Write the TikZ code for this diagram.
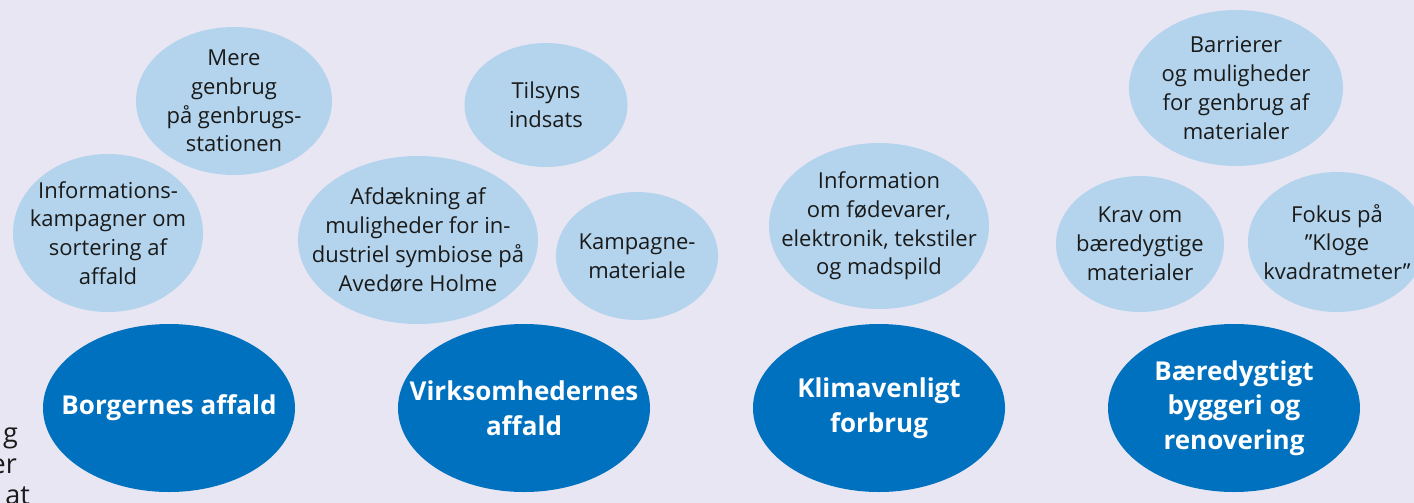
\documentclass[tikz,border=0pt]{standalone}
\usepackage{fontspec}
\setmainfont{Open Sans}
\usetikzlibrary{shapes.geometric,backgrounds}
\definecolor{bgc}{HTML}{E8E6F3}
\definecolor{dark}{HTML}{0071BF}
\definecolor{light}{HTML}{B3D4EC}
\definecolor{txt}{HTML}{1A1A1A}
\tikzset{
  sub/.style={ellipse, fill=light, inner sep=-60pt, align=center, text=txt,
    font=\fontsize{22}{28.8}\selectfont},
  main/.style={ellipse, fill=dark, inner sep=-60pt, align=center, text=white,
    minimum width=252pt, minimum height=168pt,
    font=\bfseries\fontsize{26}{34.5}\selectfont},
  link/.style={draw=dark, line width=5.5pt},
  edge/.style={text=txt, font=\fontsize{27}{31}\selectfont, anchor=base east, inner sep=0pt}
}
\begin{document}
\begin{tikzpicture}[x=1pt,y=-1pt]
\useasboundingbox (0,0) rectangle (1414,503);
\fill[bgc] (0,0) rectangle (1414,503);

% text cut off at the left edge
\node[edge] (t1) at (18,442) {g};
\node[edge] (t2) at (17,473) {er};
\node[edge] (t3) at (30,504) {at};

% main nodes
\node[main] (bor) at (169,408) {Borgernes affald};
\node[main] (vir) at (524,408) {Virksomhedernes\\affald};
\node[main] (kli) at (879,408) {Klimavenligt\\forbrug};
\node[main] (bae) at (1234,408) {Bæredygtigt\\byggeri og\\renovering};

% sub nodes
\node[sub, minimum width=190pt, minimum height=158pt] (inf) at (108,233) {Informations-\\kampagner om\\sortering af\\affald};
\node[sub, minimum width=196pt, minimum height=148pt] (mer) at (234,101) {Mere\\genbrug\\på genbrugs-\\stationen};
\node[sub, minimum width=240pt, minimum height=168pt] (afd) at (418,240) {Afdækning af\\muligheder for in-\\dustriel symbiose på\\Avedøre Holme};
\node[sub, minimum width=163pt, minimum height=124pt] (til) at (546,105) {Tilsyns\\indsats};
\node[sub, minimum width=162pt, minimum height=128pt] (kam) at (637,256) {Kampagne-\\materiale};
\node[sub, minimum width=220pt, minimum height=166pt] (fod) at (879,226) {Information\\om fødevarer,\\elektronik, tekstiler\\og madspild};
\node[sub, minimum width=214pt, minimum height=156pt] (bar) at (1236,88) {Barrierer\\og muligheder\\for genbrug af\\materialer};
\node[sub, minimum width=168pt, minimum height=136pt] (kra) at (1140,244) {Krav om\\bæredygtige\\materialer};
\node[sub, minimum width=178pt, minimum height=140pt] (fok) at (1337,242) {Fokus på\\”Kloge\\kvadratmeter”};

% bottom free ends
\coordinate (bb) at (170,510);
\coordinate (vb) at (555,510);
\coordinate (kb) at (879,510);
\coordinate (eb) at (1233,510);

\begin{scope}[on background layer]
\fill[bgc] (0,0) rectangle (1414,503);
\draw[link] (inf.south) -- (inf.south |- bor.center);
\draw[link] (mer.south) -- (mer.south |- bor.center);
\draw[link] (afd.south) -- (afd.south |- vir.center);
\draw[link] ([xshift=1pt]til.south) -- ([xshift=1pt]til.south |- vir.center);
\draw[link] (kam.south) -- (kam.south |- vir.center);
\draw[link] (fod.south) -- (fod.south |- kli.center);
\draw[link] (bar.south) -- (bar.south |- bae.center);
\draw[link] (kra.south) -- (kra.south |- bae.center);
\draw[link] ([xshift=3pt]fok.south) -- ([xshift=3pt]fok.south |- bae.center);
\draw[link] (bor.center) -- (bb);
\draw[link] (vir.center -| vb) -- (vb);
\draw[link] (kli.center) -- (kb);
\draw[link] (bae.center -| eb) -- (eb);
\end{scope}
\end{tikzpicture}
\end{document}
